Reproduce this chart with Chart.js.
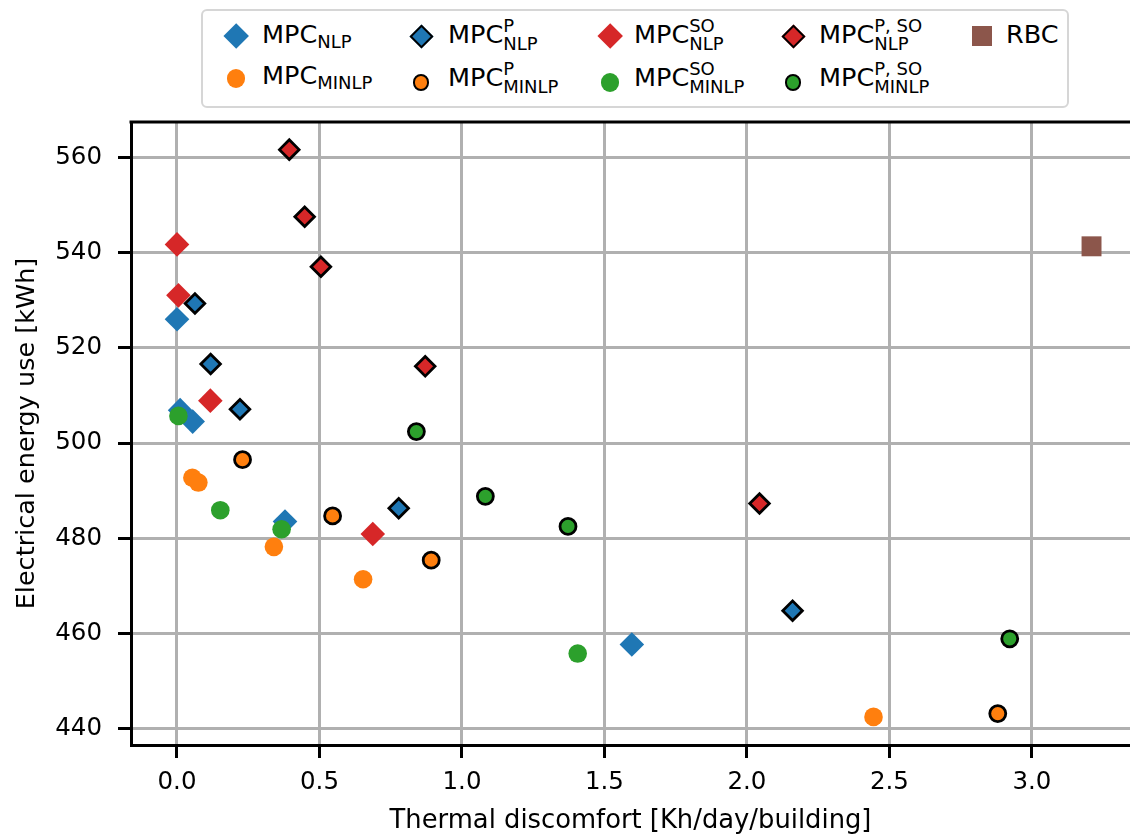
<!DOCTYPE html>
<html>
<head>
<meta charset="utf-8">
<script src="https://cdn.jsdelivr.net/npm/chart.js@4.4.1/dist/chart.umd.min.js"></script>
<style>
  html, body { margin: 0; padding: 0; background: #fff; overflow: hidden; }
  body { width: 1130px; height: 837px; position: relative; font-family: "DejaVu Sans", sans-serif; }
  #chart { position: absolute; left: 0; top: 0; }
  .legend-box { position: absolute; left: 201px; top: 9px; width: 868px; height: 99px; box-sizing: border-box;
    border: 2px solid #d6d6d6; border-radius: 6px; background: #fff; }
  .mk { position: absolute; box-sizing: border-box; }
  .lbl { position: absolute; font-size: 25.5px; line-height: 25px; white-space: nowrap; color: #000; }
  .sb1 { font-size: 18px; line-height: 18px; vertical-align: -5px; }
  .ss { position: relative; display: inline-block; font-size: 18px; line-height: 18px; vertical-align: -7px; }
  .ss .sp { position: absolute; left: 0; top: -18px; }
</style>
</head>
<body>
<canvas id="chart" width="1130" height="837"></canvas>
<div class="legend-box"></div>
<div id="legend"></div>
<script>
// values (x: thermal discomfort, y: energy use)
const nlpX = [0.0, 0.011, 0.055, 0.379, 1.596];
const nlpY = [526.0, 506.9, 504.5, 483.5, 457.7];
const nlpPX = [0.063, 0.118, 0.221, 0.778, 2.160];
const nlpPY = [529.3, 516.6, 507.1, 486.3, 464.8];
const nlpSOX = [0.0, 0.005, 0.117, 0.687];
const nlpSOY = [541.7, 531.0, 508.9, 480.9];
const nlpPSOX = [0.394, 0.448, 0.505, 0.871, 2.044];
const nlpPSOY = [561.6, 547.5, 537.0, 516.1, 487.3];
const minlpX = [0.054, 0.075, 0.340, 0.653, 2.444];
const minlpY = [492.7, 491.7, 478.2, 471.4, 442.5];
const minlpPX = [0.230, 0.546, 0.892, 2.880];
const minlpPY = [496.5, 484.7, 475.4, 443.2];
const minlpSOX = [0.005, 0.152, 0.367, 1.406];
const minlpSOY = [505.7, 485.9, 481.9, 455.8];
const minlpPSOX = [0.840, 1.082, 1.372, 2.922];
const minlpPSOY = [502.4, 488.8, 482.5, 458.9];
const rbcX = [3.209];
const rbcY = [541.3];

const xTicks = [0.0, 0.5, 1.0, 1.5, 2.0, 2.5, 3.0];
const yTicks = [440, 460, 480, 500, 520, 540, 560];

const FONT = '"DejaVu Sans", sans-serif';
const BLUE = '#1f77b4', ORANGE = '#ff7f0e', GREEN = '#2ca02c', RED = '#d62728', BROWN = '#8c564b';

// in plotting order (first = drawn first / underneath)
const series = [
  { base: 'MPC', sub: 'NLP', sup: '', x: nlpX, y: nlpY, shape: 'diamond', color: BLUE, edge: false, col: 0, row: 0 },
  { base: 'MPC', sub: 'NLP', sup: 'SO', x: nlpSOX, y: nlpSOY, shape: 'diamond', color: RED, edge: false, col: 2, row: 0 },
  { base: 'MPC', sub: 'NLP', sup: 'P', x: nlpPX, y: nlpPY, shape: 'diamond', color: BLUE, edge: true, col: 1, row: 0 },
  { base: 'MPC', sub: 'NLP', sup: 'P, SO', x: nlpPSOX, y: nlpPSOY, shape: 'diamond', color: RED, edge: true, col: 3, row: 0 },
  { base: 'MPC', sub: 'MINLP', sup: '', x: minlpX, y: minlpY, shape: 'circle', color: ORANGE, edge: false, col: 0, row: 1 },
  { base: 'MPC', sub: 'MINLP', sup: 'SO', x: minlpSOX, y: minlpSOY, shape: 'circle', color: GREEN, edge: false, col: 2, row: 1 },
  { base: 'MPC', sub: 'MINLP', sup: 'P', x: minlpPX, y: minlpPY, shape: 'circle', color: ORANGE, edge: true, col: 1, row: 1 },
  { base: 'MPC', sub: 'MINLP', sup: 'P, SO', x: minlpPSOX, y: minlpPSOY, shape: 'circle', color: GREEN, edge: true, col: 3, row: 1 },
  { base: 'RBC', sub: '', sup: '', x: rbcX, y: rbcY, shape: 'square', color: BROWN, edge: false, col: 4, row: 0 }
];

function radiusFor(s) {
  if (s.shape === 'diamond') return s.edge ? 9.8 : 12.3;
  if (s.shape === 'square') return 14.1;
  return s.edge ? 8.0 : 9.3;
}

// html legend (sub/superscripts)
const legTextX = [262, 448, 634, 819, 1006];
const legMarkX = [236, 421, 610, 793, 982];
const legend = document.getElementById('legend');
series.forEach(s => {
  let markY = 36, base = 43;
  if (s.row === 1) {
    markY = s.col === 0 ? 78.5 : 82.5;
    base = s.col === 0 ? 84 : 86.5;
  }
  const mk = document.createElement('div');
  mk.className = 'mk';
  let size;
  if (s.shape === 'diamond') {
    size = s.edge ? 17 : 18.4;
    mk.style.transform = 'rotate(45deg)';
  } else if (s.shape === 'square') {
    size = 20;
  } else {
    size = s.edge ? 16.8 : 18.5;
    mk.style.borderRadius = '50%';
  }
  mk.style.width = size + 'px';
  mk.style.height = size + 'px';
  mk.style.left = (legMarkX[s.col] - size / 2) + 'px';
  mk.style.top = (markY - size / 2) + 'px';
  mk.style.background = s.color;
  if (s.edge) mk.style.border = '2.6px solid #000';
  legend.appendChild(mk);

  const lbl = document.createElement('div');
  lbl.className = 'lbl';
  let html = s.base;
  if (s.sup) html += '<span class="ss"><span class="sp">' + s.sup + '</span>' + s.sub + '</span>';
  else if (s.sub) html += '<span class="sb1">' + s.sub + '</span>';
  lbl.innerHTML = html;
  lbl.style.left = legTextX[s.col] + 'px';
  lbl.style.top = (base - 21.4) + 'px';
  legend.appendChild(lbl);
});

// top spine (right spine falls outside the picture)
const frame = {
  id: 'frame',
  afterDraw(chart) {
    const { ctx, chartArea: a } = chart;
    ctx.save();
    ctx.strokeStyle = '#000';
    ctx.lineWidth = 3;
    ctx.beginPath();
    ctx.moveTo(a.left - 1.5, a.top);
    ctx.lineTo(a.right, a.top);
    ctx.stroke();
    ctx.restore();
  }
};

new Chart(document.getElementById('chart'), {
  type: 'scatter',
  data: {
    datasets: series.map((s, i) => ({
      label: s.base + s.sup + s.sub,
      data: s.x.map((v, j) => ({ x: v, y: s.y[j] })),
      pointStyle: s.shape === 'diamond' ? 'rectRot' : (s.shape === 'square' ? 'rect' : 'circle'),
      pointRadius: radiusFor(s),
      pointBackgroundColor: s.color,
      pointBorderColor: '#000',
      pointBorderWidth: s.edge ? 2.8 : 0,
      order: series.length - i
    }))
  },
  options: {
    responsive: false,
    animation: false,
    events: [],
    layout: { autoPadding: false, padding: { top: 122, right: 0, left: 0, bottom: 0 } },
    plugins: { legend: { display: false }, tooltip: { enabled: false } },
    scales: {
      x: {
        type: 'linear',
        min: -0.1614,
        max: 3.344,
        afterBuildTicks: sc => { sc.ticks = xTicks.map(v => ({ value: v })); },
        afterFit: sc => { sc.height = 92; },
        grid: { color: '#b0b0b0', lineWidth: 3, tickColor: '#000', tickWidth: 3, tickLength: 13 },
        border: { color: '#000', width: 3 },
        ticks: { color: '#000', font: { family: FONT, size: 24.5 }, padding: 10, maxRotation: 0,
          callback: v => Number(v).toFixed(1) },
        title: { display: true, text: 'Thermal discomfort [Kh/day/building]', color: '#000',
          font: { family: FONT, size: 25.8 }, padding: { top: 0, bottom: 0 } }
      },
      y: {
        type: 'linear',
        min: 436.6,
        max: 567.4,
        afterBuildTicks: sc => { sc.ticks = yTicks.map(v => ({ value: v })); },
        afterFit: sc => { sc.width = 131; },
        grid: { color: '#b0b0b0', lineWidth: 3, tickColor: '#000', tickWidth: 3, tickLength: 13 },
        border: { color: '#000', width: 3 },
        ticks: { color: '#000', font: { family: FONT, size: 24.5 }, padding: 16,
          callback: v => String(v) },
        title: { display: true, text: 'Electrical energy use [kWh]', color: '#000',
          font: { family: FONT, size: 25.5 }, padding: { top: 12, bottom: 0 } }
      }
    }
  },
  plugins: [frame]
});
</script>
</body>
</html>
